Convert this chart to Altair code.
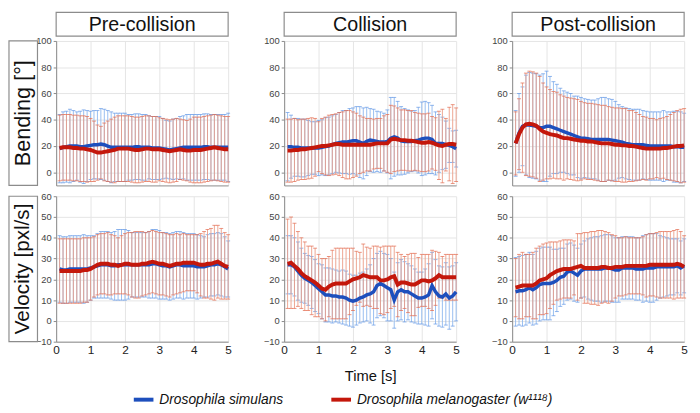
import altair as alt
import pandas as pd

TIME = [round(0.1 * i, 1) for i in range(1, 51)]
PANELS = ["Pre-collision", "Collision", "Post-collision"]
ROW_LABELS = ["Bending [°]", "Velocity [pxl/s]"]
ROW_LABEL_SIZES = [22, 21]
SPECIES = ["Drosophila simulans", "Drosophila melanogaster (w¹¹¹⁸)"]

# ---------------- Bending [deg] ----------------
pre_bend_sim_mean = [18, 19, 19.5, 20, 20, 20, 19.5, 19.5, 20, 20.5,
                     21, 21, 21.5, 21, 20, 19, 19, 19, 19, 19,
                     19, 19, 19.5, 19.5, 19, 19, 19, 18.5, 18.5, 18.5,
                     18, 17.5, 17, 17.5, 18, 18.5, 19, 19, 19, 19,
                     19, 19, 19.5, 19.5, 19, 19, 19, 19, 19, 19]
pre_bend_sim_sd = [26, 27, 27, 28, 27, 26, 27, 28, 27, 26,
                   26, 26, 27, 27, 27, 27, 26, 26, 26, 26,
                   25, 25, 25, 25, 25, 25, 24, 24, 24, 24,
                   23, 22, 22, 23, 23, 24, 24, 25, 25, 25,
                   25, 25, 25, 25, 25, 25, 25, 25, 25, 26]
pre_bend_mel_mean = [18.5, 19, 19, 19, 18.5, 18.5, 18, 18, 17.5, 17,
                     16, 15, 15, 15.5, 16, 16.5, 17, 18, 18, 18,
                     18, 17.5, 17, 17, 17.5, 18, 18, 17.5, 17.5, 17.5,
                     17, 16.5, 16, 16.5, 17, 17.5, 17, 16.5, 16.5, 17,
                     17, 17, 17.5, 18, 18.5, 19, 18.5, 18, 17.5, 17.5]
pre_bend_mel_sd = [25, 25, 25, 25, 25, 25, 25, 25, 25, 24,
                   23, 21, 20, 22, 23, 24, 25, 25, 25, 25,
                   25, 25, 25, 25, 25, 25, 25, 25, 25, 24,
                   24, 24, 24, 24, 24, 23, 23, 23, 24, 25,
                   25, 25, 25, 25, 25, 25, 25, 25, 25, 25]

col_bend_sim_mean = [19.5, 19.5, 19, 19, 18.5, 18.5, 18.5, 18.5, 18.5, 18.5,
                     19, 19.5, 20, 21, 22, 22.5, 23, 23, 23.5, 24,
                     24, 23, 22, 23.5, 24.5, 24, 23.5, 23, 23, 23.5,
                     26, 27, 26, 24, 23.5, 23.5, 23.5, 24, 24.5, 25.5,
                     26, 26, 25, 22, 22, 22, 21, 20.5, 19.5, 18]
col_bend_sim_sd = [26, 24, 22, 22, 22, 22, 21, 20, 20, 21,
                   21, 22, 22, 22, 22, 23, 24, 24, 25, 25,
                   26, 27, 27, 26, 24, 24, 23, 23, 22, 24,
                   31, 30, 28, 26, 25, 24, 23, 23, 25, 28,
                   28, 27, 26, 24, 22, 20, 18, 13, 12, 14]
col_bend_mel_mean = [16.5, 16.5, 17, 17, 17.5, 17.5, 18, 18.5, 19, 19.5,
                     20, 20, 20.5, 21, 21.5, 21.5, 21, 21, 21, 21,
                     21, 21, 21, 21, 21, 21.5, 22, 22, 22, 22,
                     25, 25.5, 25, 24.5, 24.5, 24, 24, 23.5, 23, 22.5,
                     22.5, 23, 22.5, 21.5, 20.5, 20, 21, 21.5, 21.5, 21]
col_bend_mel_sd = [24, 24, 24, 23, 23, 23, 23, 23, 22, 19,
                   21, 22, 23, 23, 23, 24, 25, 26, 26, 25,
                   24, 22, 21, 20, 20, 19, 19, 19, 21, 22,
                   26, 25, 24, 23, 23, 23, 23, 22, 22, 22,
                   22, 22, 20, 20, 26, 28, 20, 28, 30, 28]

post_bend_sim_mean = [22, 30, 35, 36, 36, 35.5, 35, 34, 34, 35,
                      35, 34, 33, 32, 31, 30, 29, 28, 27, 26,
                      26, 25.5, 25, 25, 25, 25, 25, 25, 24.5, 24,
                      23.5, 23, 22, 21.5, 21, 21, 21, 21, 20.5, 20,
                      20, 20, 20, 20, 20, 20, 19.5, 19.5, 19, 19]
post_bend_sim_sd = [25, 30, 30, 38, 40, 40, 40, 40, 41, 42,
                    38, 35, 34, 32, 31, 31, 31, 30, 31, 31,
                    30, 30, 30, 30, 31, 32, 32, 31, 31, 30,
                    28, 27, 27, 27, 27, 27, 27, 26, 26, 26,
                    26, 26, 26, 27, 26, 26, 27, 27, 27, 26]
post_bend_mel_mean = [22, 29, 34, 36.5, 37, 36.5, 35.5, 33, 31, 30,
                      29, 28.5, 28, 27, 26, 26, 25.5, 25, 24.5, 24,
                      24, 23.5, 23.5, 23, 22.5, 22, 22, 22, 21.5, 21,
                      21, 20.5, 20.5, 20, 20, 19.5, 19, 18.5, 18, 18,
                      18, 18, 18, 18.5, 18.5, 19, 19.5, 20, 20, 20.5]
post_bend_mel_sd = [24, 27, 34, 39, 40, 40, 40, 40, 37, 35,
                    34, 33, 33, 32, 32, 31, 31, 31, 31, 30,
                    29, 29, 29, 29, 29, 29, 29, 28, 28, 28,
                    28, 28, 28, 27, 27, 26, 25, 24, 24, 23,
                    23, 22, 23, 23, 24, 25, 26, 27, 28, 28]

# ---------------- Velocity [pxl/s] ----------------
pre_vel_sim_mean = [25, 24.5, 24.5, 25, 25, 25, 25, 25, 25, 25.5,
                    26, 26.5, 27, 27, 27, 26.5, 26.5, 27, 27, 27,
                    27, 27, 27, 27, 27, 27, 27, 27.5, 27.5, 27,
                    26.5, 26.5, 26, 26.5, 27, 27, 26.5, 26.5, 26.5, 26.5,
                    26, 26, 26, 26.5, 27, 27, 27.5, 27, 26, 25]
pre_vel_sim_sd = [16, 16, 16, 16, 16, 16, 16, 16.5, 16, 15.5,
                  15, 15.5, 16, 16, 16, 16, 16.5, 17, 17, 17,
                  16.5, 15.5, 15.5, 15.5, 15.5, 15.5, 16, 16.5, 16.5, 16.5,
                  16, 16, 16, 16, 16, 16, 16, 15.5, 15.5, 15.5,
                  15.5, 15, 14.5, 15, 15, 15, 15, 15, 14.5, 13.5]
pre_vel_mel_mean = [24, 24, 24, 24, 24, 24, 24, 24.5, 24.5, 25,
                    26, 27, 27.5, 27.5, 27.5, 27, 27, 26.5, 27, 27.5,
                    27.5, 27, 27, 27, 27.5, 27.5, 28, 28.5, 28, 27.5,
                    27.5, 27, 26.5, 27, 27.5, 27.5, 28, 28, 28, 28,
                    27.5, 27, 27, 27.5, 27.5, 28, 28.5, 27.5, 26.5, 26]
pre_vel_mel_sd = [15.5, 15.5, 15.5, 15.5, 15.5, 15.5, 15.5, 15.5, 15.5, 15,
                  14.5, 14.5, 14.5, 14.5, 15, 14.5, 14, 13.5, 14, 14.5,
                  15, 15.5, 16, 16, 15.5, 15, 15, 15, 15, 15,
                  15, 15, 15, 14.5, 14.5, 14, 14, 13.5, 13.5, 13.5,
                  14, 15, 16, 16.5, 17, 18, 17.5, 17, 16, 15.5]

col_vel_sim_mean = [27, 27, 26, 24, 22, 20.5, 19.5, 18.5, 17, 15.5,
                    14, 12.5, 12.5, 12, 12, 11.5, 11.5, 11, 10, 9.5,
                    10, 11, 11.5, 12.5, 13, 14, 17, 18, 17, 16,
                    15, 10, 14, 15, 14, 14, 13, 12, 11, 11,
                    11.5, 12.5, 17, 14, 12, 11.5, 13, 11, 12, 14]
col_vel_sim_sd = [14, 14, 14, 14, 13, 12, 12, 12.5, 12.5, 12,
                  13, 13, 13, 13, 12.5, 12.5, 13, 13, 12.5, 12.5,
                  12, 12, 12, 12.5, 14, 16, 15.5, 15.5, 15.5, 16,
                  15, 13.5, 14, 14.5, 14.5, 13.5, 13.5, 13, 12.5, 12.5,
                  13.5, 15, 16, 15.5, 14.5, 14.5, 15, 15, 14.5, 14]
col_vel_mel_mean = [27.5, 28, 26.5, 25, 23, 21.5, 20.5, 19.5, 18.5, 17,
                    15.5, 15, 16.5, 17.5, 18, 18, 18, 18, 19, 20,
                    20.5, 21, 22, 21.5, 21, 21, 21, 19.5, 19.5, 20,
                    21, 21.5, 17.5, 18.5, 18.5, 18, 17.5, 17.5, 18.5, 19.5,
                    19.5, 19, 19.5, 20.5, 22, 21, 21, 21, 21, 21]
col_vel_mel_sd = [21.5, 22, 20.5, 18, 17, 16.5, 15.5, 16.5, 16.5, 15,
                  14.5, 15, 14.5, 16.5, 17, 17, 17, 17, 16, 15,
                  13, 12, 15, 14, 14, 15, 15, 16, 16.5, 16,
                  15, 14.5, 15.5, 13.5, 12.5, 14, 15, 15, 12, 12.5,
                  12.5, 13, 14.5, 13, 11, 10, 11, 11, 11, 11]

post_vel_sim_mean = [14, 14.5, 14.5, 15, 16, 15, 16, 17.5, 18, 18,
                     18, 18.5, 19.5, 21, 21.5, 23.5, 24, 23, 22, 24,
                     25, 25, 25, 25, 25, 25, 25.5, 25.5, 25, 24.5,
                     24.5, 25.5, 25.5, 25.5, 25.5, 25, 25, 25, 25.5, 25.5,
                     25.5, 26, 26, 26, 26, 26, 26, 26.5, 25.5, 26.5]
post_vel_sim_sd = [16.5, 16.5, 17, 17, 17, 17, 17.5, 17.5, 17.5, 17.5,
                   17.5, 16, 15, 14, 13.5, 13.5, 13.5, 13.5, 13, 13,
                   13.5, 14.5, 15, 15.5, 15.5, 16, 16, 16, 16, 15.5,
                   15.5, 15, 15, 15, 15, 15, 15, 16, 16, 16.5,
                   16.5, 16, 15, 14.5, 14, 13.5, 13.5, 13, 13, 13]
post_vel_mel_mean = [16, 16.5, 17, 17, 17, 17, 18, 19.5, 20, 20.5,
                     22, 23, 24, 24.5, 25, 25, 25, 25.5, 26, 26.5,
                     25.5, 25.5, 25.5, 25.5, 25.5, 26, 26, 25.5, 25.5, 26,
                     26, 26, 26.5, 26.5, 26.5, 26.5, 26.5, 26.5, 26.5, 27,
                     27, 27, 27, 27, 27, 27, 27, 27.5, 27, 26]
post_vel_mel_sd = [14, 15.5, 16, 15, 15, 16, 17, 16.5, 17, 17,
                   16, 15, 14, 14, 14, 14, 14, 13, 16, 15.5,
                   17, 17, 17.5, 17.5, 18, 17.5, 17, 17, 16, 15,
                   14, 14, 14, 13.5, 13.5, 13.5, 13.5, 14, 15, 15,
                   15, 15.5, 16, 16, 16, 16, 16.5, 16.5, 16, 15]

BEND = [
    (pre_bend_sim_mean, pre_bend_sim_sd, pre_bend_mel_mean, pre_bend_mel_sd),
    (col_bend_sim_mean, col_bend_sim_sd, col_bend_mel_mean, col_bend_mel_sd),
    (post_bend_sim_mean, post_bend_sim_sd, post_bend_mel_mean, post_bend_mel_sd),
]
VEL = [
    (pre_vel_sim_mean, pre_vel_sim_sd, pre_vel_mel_mean, pre_vel_mel_sd),
    (col_vel_sim_mean, col_vel_sim_sd, col_vel_mel_mean, col_vel_mel_sd),
    (post_vel_sim_mean, post_vel_sim_sd, post_vel_mel_mean, post_vel_mel_sd),
]

BLUE_LINE = "#1d4fbd"
RED_LINE = "#c4170b"
BLUE_ERR = "#8db6ee"
RED_ERR = "#eb9b86"
BLUE_CAP = "#5f95e6"
RED_CAP = "#e2684c"

NARROW = "Liberation Sans Narrow, Liberation Sans, Arial, sans-serif"
SANS = "Liberation Sans, Arial, sans-serif"

W, H_TOP, H_BOT = 175, 147, 148
LEFT = 48  # distance from row-label box to plot area


def frame(mean, sd, species):
    df = pd.DataFrame({"t": TIME, "mean": mean, "sd": sd, "species": species})
    df["lo"] = df["mean"] - df["sd"]
    df["hi"] = df["mean"] + df["sd"]
    return df


LEGEND = alt.Legend(
    title=None, orient="none", legendX=77, legendY=353, direction="horizontal",
    symbolType="stroke", symbolStrokeWidth=4, symbolSize=400,
    labelFont=SANS, labelFontSize=14, labelFontStyle="italic", labelColor="#111",
    columnPadding=40, labelLimit=400, symbolOffset=0, padding=0,
)
COLOR_SCALE = alt.Scale(domain=SPECIES, range=[BLUE_LINE, RED_LINE])


def panel(row, col, data):
    sim = frame(data[0], data[1], SPECIES[0])
    mel = frame(data[2], data[3], SPECIES[1])
    if row == 0:
        ydom, yvals, h = [-10, 100], [0, 20, 40, 60, 80, 100], H_TOP
    else:
        ydom, yvals, h = [-10, 60], [-10, 0, 10, 20, 30, 40, 50, 60], H_BOT

    xaxis_kw = dict(values=[0, 1, 2, 3, 4, 5], grid=True, gridColor="#e4e4e4",
                    domainColor="#8a8a8a", ticks=False, labels=(row == 1),
                    labelFont=NARROW, labelFontSize=12, labelColor="#222",
                    labelPadding=3, labelFlush=False, labelOverlap=False, title=None)
    if row == 1 and col == 1:
        xaxis_kw.update(title="Time [s]", titleFont=SANS, titleFontSize=15,
                        titleFontWeight="normal", titleColor="#111", titlePadding=14)
    x = alt.X("t:Q", scale=alt.Scale(domain=[0, 5], nice=False, zero=False),
              axis=alt.Axis(**xaxis_kw))
    yaxis = alt.Axis(values=yvals, grid=True, gridColor="#e4e4e4", domainColor="#8a8a8a",
                     tickColor="#8a8a8a", tickSize=3, labelFont=NARROW, labelFontSize=9.5,
                     labelColor="#444", labelPadding=2, labelOverlap=False,
                     labelFlush=False, title=None)
    yscale = alt.Scale(domain=ydom, nice=False, zero=False)

    def bars(df, err, cap):
        b = alt.Chart(df)
        r = b.mark_rule(color=err, strokeWidth=1, opacity=0.9).encode(
            x=x, y=alt.Y("lo:Q", scale=yscale, axis=yaxis), y2="hi:Q")
        t1 = b.mark_tick(color=cap, orient="horizontal", size=4, thickness=1).encode(
            x=x, y=alt.Y("hi:Q", scale=yscale, axis=yaxis))
        t2 = b.mark_tick(color=cap, orient="horizontal", size=4, thickness=1).encode(
            x=x, y=alt.Y("lo:Q", scale=yscale, axis=yaxis))
        return [r, t1, t2]

    def line(df, width):
        return alt.Chart(df).mark_line(strokeWidth=width).encode(
            x=x, y=alt.Y("mean:Q", scale=yscale, axis=yaxis),
            color=alt.Color("species:N", scale=COLOR_SCALE, legend=LEGEND))

    layers = bars(sim, BLUE_ERR, BLUE_CAP) + bars(mel, RED_ERR, RED_CAP)
    layers += [line(sim, 3.5), line(mel, 4)]

    one = pd.DataFrame({"k": [0]})
    if row == 0:
        box = alt.Chart(one).mark_rect(fill="white", stroke="#8c8c8c", strokeWidth=1.2).encode(
            x=alt.value(0), x2=alt.value(W), y=alt.value(-29), y2=alt.value(-5))
        txt = alt.Chart(one).mark_text(text=PANELS[col], font=SANS, fontSize=20,
                                       color="#111", baseline="middle", align="center").encode(
            x=alt.value(W / 2), y=alt.value(-16))
        layers += [box, txt]
    if col == 0:
        rbox = alt.Chart(one).mark_rect(fill="white", stroke="#8c8c8c", strokeWidth=1.2).encode(
            x=alt.value(-LEFT), x2=alt.value(-LEFT + 29), y=alt.value(0), y2=alt.value(h))
        rtxt = alt.Chart(one).mark_text(text=ROW_LABELS[row], font=SANS,
                                        fontSize=ROW_LABEL_SIZES[row],
                                        color="#111", angle=270, baseline="middle",
                                        align="center").encode(
            x=alt.value(-LEFT + 14.5), y=alt.value(h / 2))
        layers += [rbox, rtxt]

    return alt.layer(*layers).properties(width=W, height=h)


charts = [panel(0, c, BEND[c]) for c in range(3)] + [panel(1, c, VEL[c]) for c in range(3)]

chart = alt.concat(
    *charts, columns=3, spacing=alt.RowColnumber(row=11, column=57), bounds="flush"
).properties(padding=0).configure_view(strokeWidth=0)

chart.save("out.html", embed_options={"renderer": "svg", "actions": False})
